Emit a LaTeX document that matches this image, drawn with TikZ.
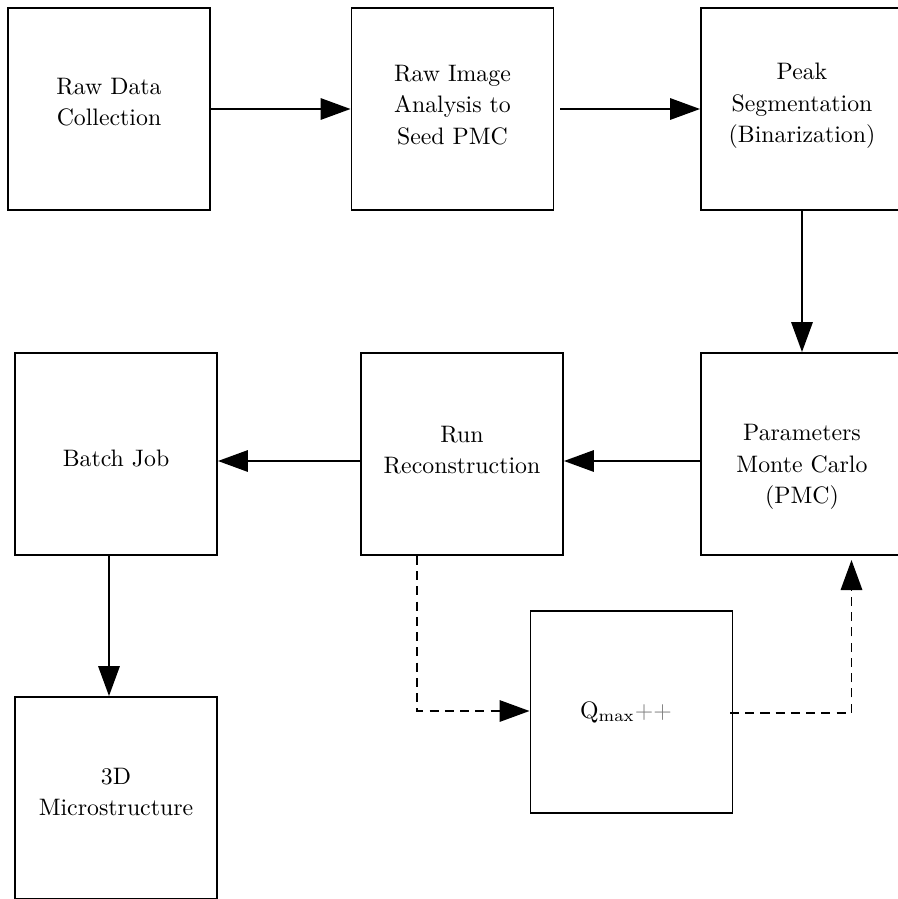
\documentclass[tikz,border=0pt]{standalone}
\usetikzlibrary{arrows.meta}
\begin{document}
\begin{tikzpicture}[x=0.42pt,y=-0.42pt,
  box/.style={draw,line width=0.8pt,minimum width=84.84pt,minimum height=84.84pt,inner sep=0pt},
  txt/.style={inner sep=0pt,align=center,font=\fontsize{10}{13.2}\selectfont},
  arr/.style={line width=0.8pt,-{Triangle[length=12.6pt,width=9pt]}},
  dsh/.style={arr,dash pattern=on 3.8pt off 2.6pt}]
\useasboundingbox (0,0) rectangle (898,899);
\node[box] (A) at (109,109) {};
\node[box] (B) at (452.5,109) {};
\node[box] (C) at (802,109) {};
\node[box] (D) at (116,454) {};
\node[box] (E) at (462,454) {};
\node[box] (F) at (802,454) {};
\node[box] (G) at (631.5,712) {};
\node[box] (H) at (116,798) {};
\node[txt] (At) at (109,102) {Raw Data\\Collection};
\node[txt] (Bt) at (452.5,105) {Raw Image\\Analysis to\\Seed PMC};
\node[txt] (Ct) at (802,106) {Peak\\Segmentation\\(Binarization)};
\node[txt] (Dt) at (116,458) {Batch Job};
\node[txt] (Et) at (462,450) {Run\\Reconstruction};
\node[txt] (Ft) at (802,467) {Parameters\\Monte Carlo\\(PMC)};
\node[txt] (Gt) at (626,712) {Q$_{\mathrm{max}}$\textcolor{gray}{++}};
\node[txt] (Ht) at (116,792) {3D\\Microstructure};
\coordinate (bs) at (560,109);
\coordinate (e1) at (417,711);
\coordinate (g1) at (730,713);
\coordinate (g2) at (851.5,713);
\coordinate (fb) at (851.5,560);
\draw[arr] (A.east) -- (B.west);
\draw[arr] (bs) -- (C.west);
\draw[arr] (C.south) -- (F.north);
\draw[arr] (F.west |- 0,461) -- (E.east |- 0,461);
\draw[arr] (E.west |- 0,461) -- (D.east |- 0,461);
\draw[arr] (D.south -| 109,0) -- (H.north -| 109,0);
\draw[dsh] (E.south -| e1) -- (e1) -- (G.west |- e1);
\draw[dsh] (g1) -- (g2) -- (fb);
\end{tikzpicture}
\end{document}
